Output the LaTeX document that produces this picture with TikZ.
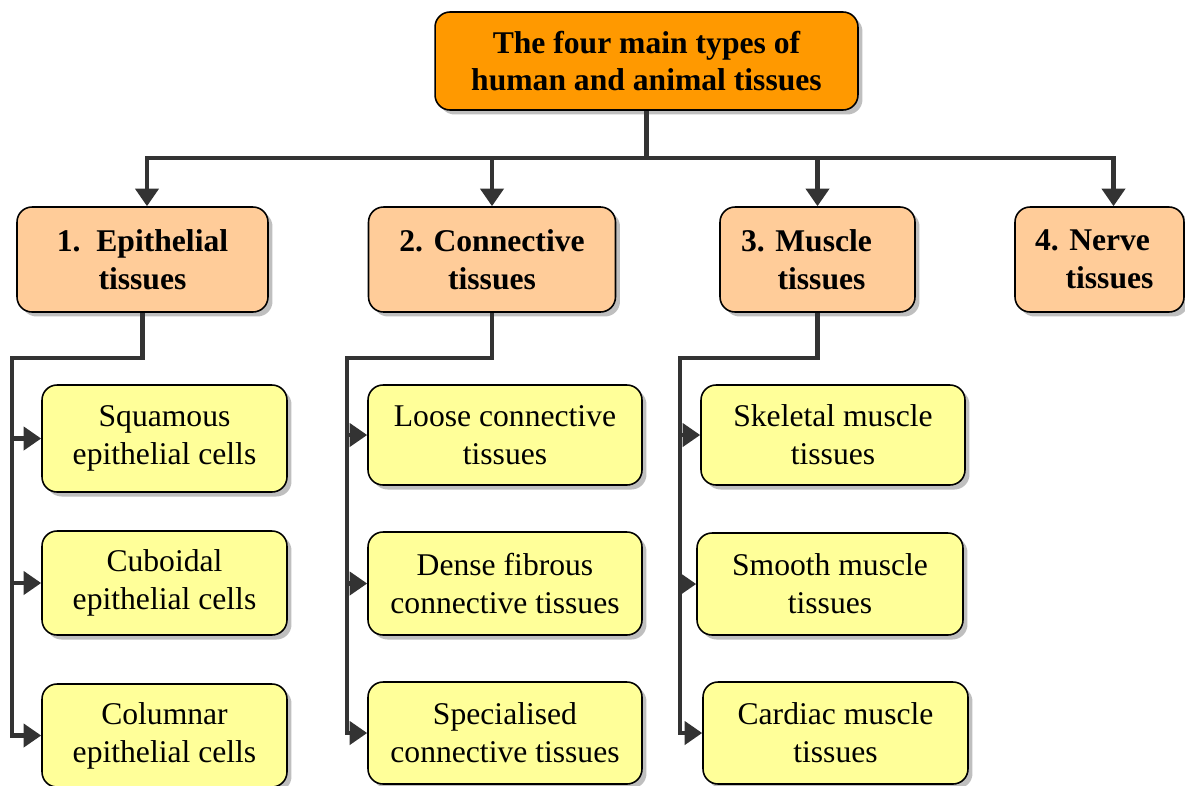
\documentclass[tikz,border=0pt]{standalone}
\usepackage{fontspec}
\setmainfont{Liberation Serif}
\usepackage{tikz}
\usetikzlibrary{arrows.meta, shadows, calc}

\definecolor{topfill}{HTML}{FF9900}
\definecolor{typefill}{HTML}{FFCC99}
\definecolor{cellfill}{HTML}{FFFF99}
\definecolor{linkgray}{HTML}{333333}

\begin{document}
\begin{tikzpicture}[
    x=0.02cm, y=-0.02cm,
    box/.style={rectangle, rounded corners=0.3cm, draw=black, line width=0.9pt, fill=#1, align=center, inner sep=0pt,
        drop shadow={shadow xshift=0.09cm, shadow yshift=-0.09cm, fill=gray!50, opacity=1},
        font=\fontsize{18}{21.5}\selectfont},
    head/.style={box=topfill, font=\fontsize{18}{21.5}\selectfont\bfseries, minimum width=8.46cm, minimum height=1.96cm},
    tissue/.style={box=typefill, font=\fontsize{18}{21.5}\selectfont\bfseries, minimum height=2.1cm},
    cell/.style={box=cellfill},
    link/.style={draw=linkgray, line width=2.7pt},
    arr/.style={link, -{Triangle[length=10pt, width=13pt]}}
]
\useasboundingbox (0,0) rectangle (1185,785);

% Main title
\node[head] (title) at (646.5,61) {The four main types of\\human and animal tissues};

% Four tissue types
\node[tissue, minimum width=5.02cm] (epi) at (142.5,259.5) {1.\enspace Epithelial\\tissues};
\node[tissue, minimum width=4.94cm] (con) at (492,259.5) {2. Connective\\tissues};
\node[tissue, minimum width=3.9cm] (mus) at (817.5,259.5) {3. Muscle\hspace*{0.44cm}\\\hspace*{0.16cm}tissues};
\node[tissue, minimum width=3.38cm] (ner) at (1099.5,259.5) {4. Nerve\hspace*{0.28cm}\\\hspace*{0.4cm}tissues};

% Epithelial cells
\node[cell, minimum width=4.9cm, minimum height=2.14cm] (squ) at (164.5,438.5) {Squamous\\epithelial cells};
\node[cell, minimum width=4.9cm, minimum height=2.08cm] (cub) at (164.5,583) {Cuboidal\\epithelial cells};
\node[cell, minimum width=4.9cm, minimum height=2.06cm] (colu) at (164.5,735.5) {Columnar\\epithelial cells};

% Connective tissues
\node[cell, minimum width=5.48cm, minimum height=2cm] (loo) at (505,435) {Loose connective\\tissues};
\node[cell, minimum width=5.48cm, minimum height=2.06cm] (den) at (505,583.5) {Dense fibrous\\connective tissues};
\node[cell, minimum width=5.48cm, minimum height=2.04cm] (spe) at (505,733) {Specialised\\connective tissues};

% Muscle tissues
\node[cell, minimum width=5.28cm, minimum height=2cm] (ske) at (833,435) {Skeletal muscle\\tissues};
\node[cell, minimum width=5.32cm, minimum height=2.04cm] (smo) at (830,584) {Smooth muscle\\tissues};
\node[cell, minimum width=5.3cm, minimum height=2.04cm] (car) at (835.5,733) {Cardiac muscle\\tissues};

% Title down to the four types
\coordinate (bus) at (646.5,158);
\draw[link] (title.south) -- (bus);
\foreach \t in {con, mus}
    \draw[arr] (bus) -| (\t.north);
\draw[arr] (bus) -| ([xshift=0.09cm]epi.north);
\draw[arr] (bus) -| ([xshift=0.28cm]ner.north);

% Types down to their kinds
\coordinate (epi-turn) at (12,358);
\coordinate (con-turn) at (347,358);
\coordinate (mus-turn) at (680,358);
\foreach \p/\c in {epi/squ, epi/cub, epi/colu, con/loo, con/den, con/spe, mus/ske, mus/smo, mus/car}
    \draw[arr] (\p.south) |- (\p-turn) |- (\c.west);

\end{tikzpicture}
\end{document}
